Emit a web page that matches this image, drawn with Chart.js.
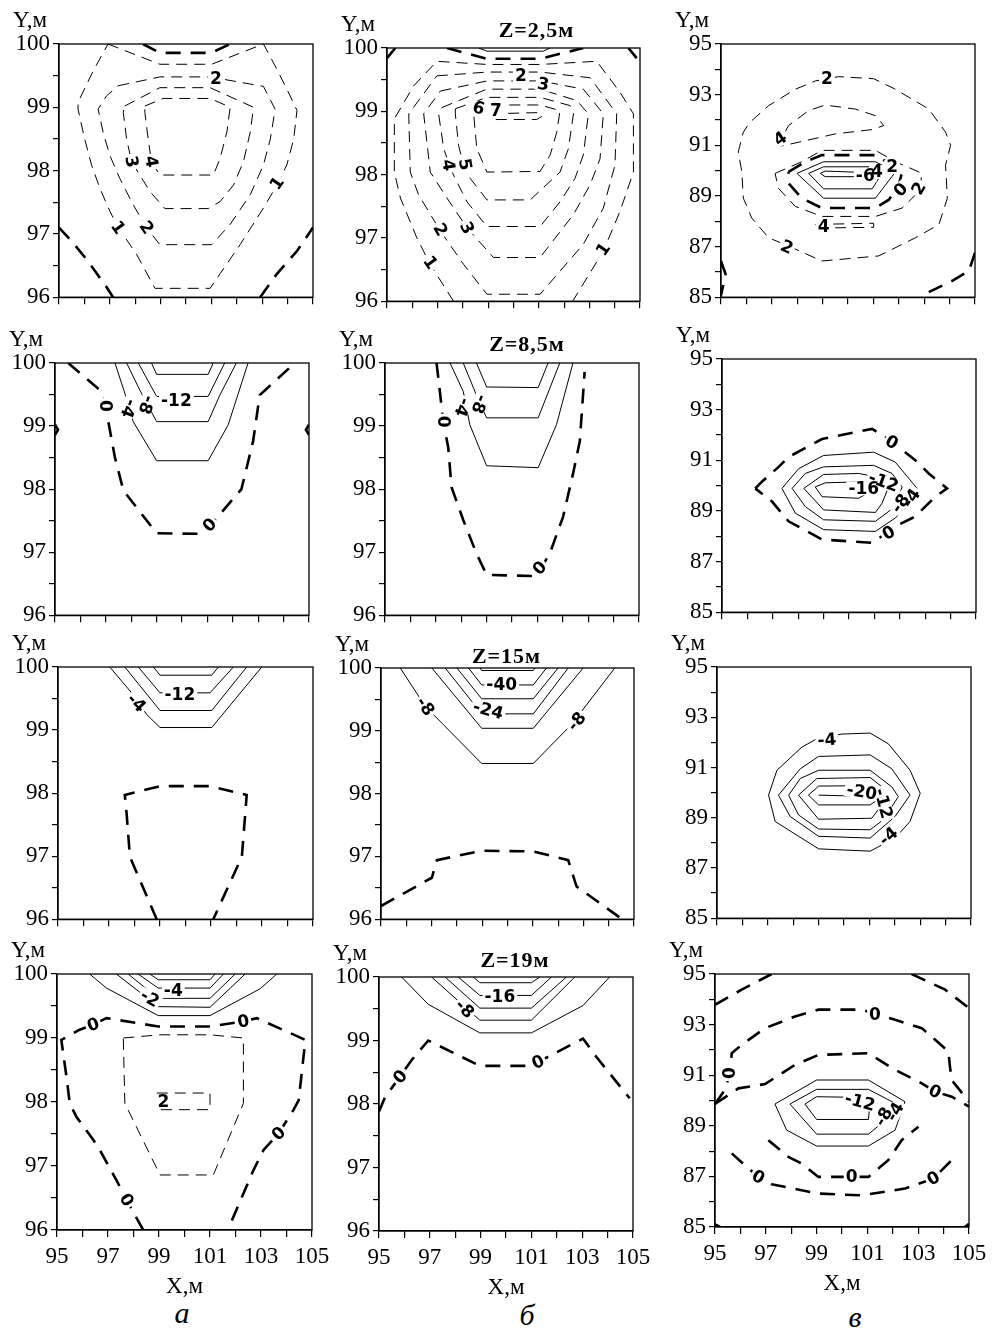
<!DOCTYPE html>
<html>
<head>
<meta charset="utf-8">
<script src="https://cdn.jsdelivr.net/npm/chart.js@4.4.1/dist/chart.umd.min.js"></script>
<style>
  body { margin: 0; background: #fff; }
  #fig { position: relative; width: 992px; height: 1337px; overflow: hidden; background: #fff; }
  #fig canvas { position: absolute; }
  .cap { position: absolute; font: italic 30px "Liberation Serif", serif; color: #000; line-height: 1; transform: translateX(-50%); }
</style>
</head>
<body>
<div id="fig">
  <div class="cap" style="left:182px;top:1298px">а</div>
  <div class="cap" style="left:527px;top:1300px">б</div>
  <div class="cap" style="left:855px;top:1302px">в</div>
</div>
<script>
// ── TICKS ────────────────────────────────────────────
const xTickLabels  = [95, 97, 99, 101, 103, 105];
const yTicksAB     = [96, 97, 98, 99, 100];
const yTicksC      = [85, 87, 89, 91, 93, 95];

// ── ROW 1 (a) ────────────────────────────────────────
const a1ZeroTop   = [[98.3,100],[98.97,99.86],[101.0,99.86],[101.74,100]];
const a1ZeroLeft  = [[95,97.1],[95.49,96.89],[96.14,96.57],[96.87,96.16],[97.13,96]];
const a1ZeroRight = [[102.92,96],[103.58,96.37],[104.37,96.73],[105,97.1]];
const a1Iso1 = [[96.93,100],[98.97,99.68],[101.01,99.68],[103.05,100],[103.58,99.6],[104.1,99.18],[104.37,98.95],[104.24,98.5],[103.97,98.09],[103.58,97.77],[103.05,97.41],[102.13,96.83],[101.34,96.37],[100.95,96.14],[98.78,96.14],[98.05,96.68],[97.33,97.1],[97.0,97.36],[96.61,97.72],[96.28,98.09],[96.01,98.5],[95.75,98.97],[95.75,99.08],[96.34,99.57],[96.93,100]];
const a1Iso2 = [[97.33,99.34],[98.97,99.48],[100.95,99.48],[103.05,99.33],[103.51,98.97],[103.32,98.5],[103.05,98.09],[102.53,97.62],[101.74,97.15],[101.01,96.83],[98.97,96.83],[98.45,97.1],[97.92,97.46],[97.39,97.88],[97.0,98.24],[96.74,98.6],[96.54,98.97],[96.87,99.18],[97.33,99.34]];
const a1Iso3 = [[97.59,99.02],[98.97,99.31],[100.95,99.31],[102.66,99.0],[102.53,98.61],[102.26,98.14],[101.87,97.77],[101.34,97.51],[100.88,97.4],[99.17,97.4],[98.58,97.67],[97.86,98.14],[97.66,98.5],[97.53,98.92],[97.59,99.02]];
const a1Iso4 = [[98.38,99.02],[99.1,99.14],[100.95,99.14],[101.74,99.0],[101.61,98.61],[101.34,98.19],[101.08,97.93],[98.97,97.93],[98.64,98.14],[98.51,98.5],[98.38,98.92],[98.38,99.02]];
const a1Labels = [["2",101.18,99.46,0],["4",98.64,98.14,80],["3",97.86,98.14,80],["2",98.45,97.1,55],["1",97.33,97.1,55],["1",103.58,97.8,-55]];

// ── ROW 1 (б) Z=2,5м ─────────────────────────────────
const b1ZeroTop = [[97.37,100],[98.95,99.83],[101.05,99.83],[102.76,100]];
const b1ZeroTL  = [[95,99.84],[95.33,100]];
const b1ZeroTR  = [[104.54,100],[104.87,99.84]];
const b1Neg     = [[98.62,100],[98.95,99.95],[101.18,99.95],[101.45,100]];
const b1Iso1 = [[97.63,96.0],[96.71,96.58],[96.18,97.0],[95.53,97.63],[95.29,98.04],[95.29,98.88],[96.05,99.4],[96.97,99.79],[98.95,99.74],[101.05,99.74],[103.29,99.79],[104.21,99.3],[104.74,98.96],[104.74,98.04],[104.21,97.42],[103.55,96.79],[102.34,96.0]];
const b1Iso2 = [[96.97,99.56],[98.95,99.62],[101.05,99.62],[103.03,99.53],[104.08,98.96],[104.01,98.15],[103.55,97.47],[102.76,96.9],[101.05,96.11],[98.95,96.11],[98.03,96.58],[97.11,97.11],[96.25,97.68],[95.92,98.04],[95.86,98.96],[96.97,99.56]];
const b1Iso3 = [[97.11,99.32],[98.95,99.48],[101.05,99.48],[102.76,99.35],[103.55,98.96],[103.42,98.25],[103.03,97.84],[102.37,97.37],[101.05,96.69],[99.21,96.69],[98.16,97.16],[97.37,97.63],[96.71,98.04],[96.45,98.96],[97.11,99.32]];
const b1Iso4 = [[97.17,99.06],[98.95,99.35],[101.05,99.35],[102.5,99.17],[102.96,98.96],[102.76,98.31],[102.43,97.94],[101.84,97.57],[101.05,97.18],[98.95,97.18],[98.16,97.57],[97.57,98.04],[97.24,98.41],[97.04,98.96],[97.17,99.06]];
const b1Iso5 = [[97.7,99.04],[98.95,99.22],[101.05,99.22],[102.24,99.09],[102.37,98.96],[102.17,98.41],[101.84,98.04],[100.66,97.6],[98.95,97.6],[98.29,97.94],[98.03,98.15],[97.83,98.46],[97.7,98.96],[97.7,99.04]];
const b1Iso6 = [[98.42,99.06],[98.95,99.1],[101.05,99.1],[101.84,99.01],[101.71,98.67],[101.45,98.31],[101.05,98.05],[98.95,98.04],[98.55,98.41],[98.42,98.98],[98.42,99.06]];
const b1Iso7 = [[99.08,98.96],[101.05,98.98],[101.12,98.92],[100.92,98.87],[99.21,98.87],[99.08,98.96]];
const b1Labels = [["2",100.29,99.57,0],["3",101.18,99.43,10],["6",98.62,99.05,15],["7",99.3,99.01,0],["4",97.43,98.15,80],["5",98.09,98.16,80],["2",97.11,97.13,60],["3",98.16,97.16,65],["1",96.71,96.61,55],["1",103.55,96.82,-55]];

// ── ROW 1 (в) ────────────────────────────────────────
const c1Iso2  = [[98.71,93.54],[99.63,93.71],[101.01,93.63],[101.87,93.21],[103.18,92.43],[103.84,91.52],[104.04,91.0],[103.84,90.22],[103.91,88.91],[103.58,87.87],[102.66,87.35],[101.21,86.63],[98.97,86.43],[97.66,87.02],[96.87,87.35],[96.21,88.13],[95.88,88.91],[95.82,89.95],[95.68,90.74],[95.88,91.52],[96.14,91.91],[96.87,92.56],[97.92,93.21],[98.71,93.54]];
const c1Iso4  = [[97.2,90.93],[97.66,91.78],[98.45,92.37],[99.1,92.59],[100.29,92.43],[101.08,92.17],[101.41,91.78],[100.95,91.62],[99.5,91.45],[98.18,91.15],[97.2,90.93]];
const c1Iso2b = [[97.13,89.89],[98.18,90.35],[98.97,90.8],[101.08,90.8],[101.87,90.35],[102.92,89.89],[102.79,89.17],[102.13,88.52],[101.08,88.19],[98.97,88.19],[97.92,88.59],[97.26,89.3],[97.13,89.89]];
const c1Zero  = [[97.66,89.95],[98.32,90.35],[98.97,90.61],[101.08,90.61],[101.74,90.22],[102.13,89.95],[102.0,89.43],[101.61,88.85],[101.08,88.52],[98.97,88.52],[98.18,88.91],[97.66,89.5],[97.66,89.95]];
const c1Neg1  = [[97.99,89.89],[99.04,90.35],[101.08,90.35],[101.87,89.95],[101.08,88.91],[99.04,88.91],[97.99,89.89]];
const c1Neg2  = [[98.45,89.89],[99.04,90.15],[100.95,90.15],[101.34,89.89],[100.95,89.28],[99.04,89.28],[98.45,89.89]];
const c1Neg3  = [[98.91,89.89],[99.1,89.98],[100.55,89.93],[100.55,89.76],[99.1,89.76],[98.91,89.89]];
const c1Iso4b = [[98.71,87.87],[99.5,87.89],[101.01,87.92],[101.01,87.76],[99.5,87.74],[98.71,87.76],[98.71,87.87]];
const c1ZeroBL = [[95,86.43],[95.18,85.91],[95,85.07]];
const c1ZeroBR = [[103.18,85.2],[104.11,85.65],[104.76,86.04],[105,86.76]];
const c1Labels = [["2",99.17,93.63,0],["2",97.59,86.98,25],["4",97.33,91.26,-35],["-6",100.68,89.82,0],["4",101.14,89.95,0],["2",101.74,90.15,0],["0",102.07,89.24,-45],["2",102.79,89.3,-60],["4",99.04,87.8,0]];

// ── ROW 2 (a) ────────────────────────────────────────
const a2Zero  = [[95.52,100],[96.77,99.57],[96.97,99.34],[97.1,99.07],[97.36,98.5],[97.69,97.98],[99.0,97.3],[100.83,97.29],[102.34,98.0],[102.8,98.76],[103.06,99.49],[104.44,100]];
const a2ZeroL = [[95,99.02],[95.12,98.94],[95,98.86]];
const a2ZeroR = [[105,99.02],[104.88,98.94],[105,98.86]];
const a2Neg4  = [[97.36,100],[97.75,99.52],[98.08,99.07],[99.0,98.45],[101.03,98.45],[101.82,99.02],[102.6,100]];
const a2Neg8  = [[97.82,100],[98.34,99.57],[99.0,99.07],[101.03,99.07],[101.49,99.49],[102.14,100]];
const a2Neg12 = [[98.28,100],[99.0,99.47],[101.03,99.47],[101.68,100]];
const a2Neg16 = [[98.8,100],[99.0,99.82],[101.03,99.82],[101.23,100]];
const a2Labels = [["0",96.97,99.32,90],["-4",97.9,99.28,110],["-8",98.6,99.34,110],["-12",99.78,99.4,0],["0",101.09,97.43,-45]];

// ── ROW 2 (б) Z=8,5м ─────────────────────────────────
const b2Zero  = [[97.03,100],[97.16,99.55],[97.29,99.07],[97.49,98.66],[97.62,98.03],[98.08,97.51],[98.6,96.98],[99.0,96.64],[100.96,96.62],[101.49,96.98],[102.01,97.56],[102.4,98.24],[102.67,98.76],[102.86,99.86]];
const b2Neg4  = [[97.56,100],[98.08,99.55],[98.34,99.02],[99.0,98.37],[101.03,98.34],[101.75,99.02],[102.4,100]];
const b2Neg8  = [[98.08,100],[98.6,99.49],[99.0,99.13],[101.03,99.13],[101.88,100]];
const b2Neg12 = [[98.6,100],[99.0,99.62],[101.03,99.61],[101.42,100]];
const b2Labels = [["0",97.29,99.07,90],["-4",98.05,99.3,110],["-8",98.72,99.35,110],["0",101.09,96.75,-45]];

// ── ROW 2 (в) ────────────────────────────────────────
const c2Zero  = [[96.31,89.89],[96.57,90.15],[97.23,90.74],[97.62,91.13],[98.94,91.84],[100.91,92.24],[101.56,91.84],[102.61,91.0],[103.14,90.48],[103.86,89.89],[103.4,89.56],[103.0,89.17],[102.61,88.78],[101.96,88.46],[100.91,87.74],[98.94,87.87],[97.62,88.59],[96.97,89.37],[96.31,89.89]];
const c2Neg4  = [[97.36,89.89],[98.02,90.67],[99.0,91.19],[100.97,91.32],[101.82,90.93],[102.68,89.89],[102.35,89.24],[101.82,88.72],[101.04,88.19],[99.0,88.26],[97.89,88.91],[97.36,89.89]];
const c2Neg8  = [[97.76,89.89],[98.28,90.48],[99.0,90.74],[100.97,90.8],[101.69,90.48],[102.09,89.95],[101.82,89.17],[101.04,88.59],[99.0,88.65],[98.28,89.17],[97.76,89.89]];
const c2Neg12 = [[98.22,89.89],[99.0,90.44],[100.38,90.48],[101.04,90.35],[101.56,89.95],[101.3,89.3],[101.04,88.94],[99.0,89.04],[98.22,89.89]];
const c2Neg16 = [[98.67,89.95],[99.07,90.11],[100.45,90.15],[100.91,89.82],[100.38,89.5],[98.94,89.56],[98.67,89.95]];
const c2Labels = [["0",101.69,91.71,30],["0",101.56,88.13,-30],["-16",100.58,89.89,0],["-12",101.36,90.15,20],["-8",102.02,89.3,-55],["-4",102.45,89.5,-55]];

// ── ROW 3 (a) ────────────────────────────────────────
const a3Neg4  = [[97.03,100],[97.95,99.56],[98.47,99.25],[99.0,99.04],[101.03,99.04],[102.99,100]];
const a3Neg8  = [[97.62,100],[99.0,99.31],[101.03,99.31],[102.4,100]];
const a3Neg12 = [[98.15,100],[99.0,99.59],[100.96,99.59],[101.88,100]];
const a3Neg16 = [[98.74,100],[99.0,99.87],[101.03,99.87],[101.29,100]];
const a3Zero  = [[98.87,96],[97.82,96.99],[97.69,97.68],[97.62,97.97],[99.0,98.11],[100.96,98.11],[102.4,97.97],[102.21,96.99],[101.09,96]];
const a3Labels = [["-4",98.08,99.43,45],["-12",99.78,99.56,0]];

// ── ROW 3 (б) Z=15м ──────────────────────────────────
const b3Neg8  = [[95.76,100],[96.75,99.39],[98.98,98.48],[101.02,98.48],[102.53,99.1],[104.24,100]];
const b3Neg16 = [[97.01,100],[98.98,99.04],[101.02,99.04],[102.99,100]];
const b3Neg24 = [[97.54,100],[98.98,99.27],[101.02,99.27],[102.4,100]];
const b3Neg32 = [[98.0,100],[98.98,99.51],[101.02,99.51],[102.0,100]];
const b3Neg40 = [[98.46,100],[98.98,99.73],[101.02,99.73],[101.54,100]];
const b3Neg48 = [[98.92,100],[98.98,99.96],[101.02,99.96],[101.08,100]];
const b3Zero  = [[95,96.21],[97.01,96.66],[97.21,96.94],[98.98,97.09],[101.02,97.08],[102.4,96.94],[102.73,96.52],[104.43,96.03]];
const b3Labels = [["-8",96.75,99.39,55],["-8",102.73,99.15,-50],["-24",99.24,99.33,15],["-40",99.77,99.73,0]];

// ── ROW 3 (в) ────────────────────────────────────────
const c3Neg4  = [[98.93,92.14],[99.91,92.33],[101.03,92.37],[101.75,91.94],[102.6,90.89],[103.0,89.97],[102.6,88.85],[102.01,88.19],[101.03,87.67],[99.0,87.76],[97.29,88.85],[97.03,89.9],[97.36,90.89],[98.34,91.81],[98.93,92.14]];
const c3Neg8  = [[97.42,89.9],[98.28,90.95],[99.0,91.44],[101.03,91.5],[101.88,90.95],[102.6,89.9],[102.01,89.05],[101.03,88.19],[99.0,88.26],[97.88,89.05],[97.42,89.9]];
const c3Neg12 = [[97.82,89.9],[98.28,90.56],[99.0,90.89],[101.03,90.89],[101.88,90.23],[102.14,89.84],[101.55,88.92],[101.03,88.52],[99.0,88.55],[98.21,89.11],[97.82,89.9]];
const c3Neg16 = [[98.21,89.9],[98.93,90.56],[101.03,90.6],[101.49,90.23],[101.75,89.84],[101.09,88.98],[99.0,88.94],[98.21,89.9]];
const c3Neg20 = [[98.6,89.9],[99.0,90.26],[100.2,90.27],[101.2,90.1],[101.49,89.84],[101.03,89.51],[99.0,89.51],[98.6,89.9]];
const c3Neg24 = [[99.0,89.9],[101.23,89.84]];
const c3Labels = [["-4",99.33,92.1,-5],["-20",100.7,90.03,10],["-12",101.55,89.57,75],["-4",101.75,88.26,-40]];

// ── ROW 4 (a) ────────────────────────────────────────
const a4Neg2  = [[96.28,100],[96.94,99.78],[98.97,99.35],[101.0,99.35],[102.97,99.77],[103.62,100]];
const a4Neg4  = [[97.33,100],[98.97,99.49],[101.0,99.48],[102.38,100]];
const a4Neg6  = [[97.79,100],[98.97,99.62],[101.0,99.62],[101.99,100]];
const a4Neg8  = [[98.18,100],[98.97,99.78],[101.0,99.78],[101.53,100]];
const a4Neg10 = [[98.64,100],[98.97,99.91],[101.0,99.91],[101.2,100]];
const a4Zero  = [[98.38,96],[97.73,96.47],[97.33,96.78],[96.68,97.25],[96.42,97.41],[95.76,97.77],[95.5,97.98],[95.37,98.4],[95.17,98.97],[95.89,99.13],[96.42,99.21],[96.94,99.31],[98.97,99.18],[101.0,99.18],[102.31,99.26],[102.84,99.31],[104.74,98.97],[104.61,98.5],[104.48,98.03],[104.28,97.88],[103.69,97.51],[103.1,97.25],[102.71,96.94],[101.75,96.05]];
const a4Pos1  = [[97.6,99.0],[99.04,99.05],[101.0,99.05],[102.31,99.0],[102.31,97.98],[101.13,96.86],[99.04,96.86],[97.66,97.98],[97.6,99.0]];
const a4Pos2  = [[98.91,98.14],[101.0,98.14],[101.0,97.88],[98.91,97.88],[98.91,98.14]];
const a4Labels = [["-2",98.64,99.62,30],["-4",99.56,99.74,0],["0",96.42,99.21,-20],["0",102.31,99.26,-10],["0",103.69,97.51,-45],["0",97.73,96.47,60],["2",99.17,98.01,0]];

// ── ROW 4 (б) Z=19м ──────────────────────────────────
const b4Neg4  = [[95.89,100],[96.94,99.57],[98.97,99.12],[101.0,99.12],[103.03,99.55],[104.08,100]];
const b4Neg8  = [[97.07,100],[98.97,99.32],[101.0,99.32],[102.71,100]];
const b4Neg12 = [[97.6,100],[98.97,99.51],[101.0,99.51],[102.38,100]];
const b4Neg16 = [[98.12,100],[98.97,99.71],[101.0,99.71],[101.79,100]];
const b4Neg20 = [[98.71,100],[98.97,99.91],[101.0,99.91],[101.33,100]];
const b4Zero  = [[95,97.88],[95.24,98.11],[95.83,98.43],[96.28,98.69],[96.94,99.0],[98.97,98.6],[100.94,98.6],[101.26,98.66],[103.03,99.03],[103.56,98.74],[104.87,98.09]];
const b4Labels = [["-8",98.38,99.5,45],["-16",99.76,99.69,0],["0",95.83,98.43,-50],["0",101.26,98.66,-25]];

// ── ROW 4 (в) ────────────────────────────────────────
const c4ZeroTL = [[95,93.78],[96.05,94.38],[97.23,95]];
const c4ZeroTR = [[102.74,95],[104.06,94.38],[105,93.65]];
const c4Zero2  = [[95,89.86],[95.39,90.42],[95.59,91.08],[95.66,91.87],[96.05,92.2],[96.97,92.86],[98.15,93.32],[99.07,93.59],[100.77,93.59],[102.09,93.19],[103.14,92.86],[104.19,91.94],[104.25,91.34],[104.32,90.81],[105,89.95]];
const c4Zero3  = [[95,89.86],[95.92,90.48],[96.97,90.65],[98.15,91.41],[99.07,91.8],[101.04,91.87],[102.09,91.21],[103.14,90.68],[103.66,90.35],[104.32,90.15],[105,89.76]];
const c4Zero4  = [[95.66,87.91],[96.18,87.44],[96.71,86.98],[97.23,86.69],[99.07,86.32],[100.77,86.25],[102.48,86.52],[103.6,86.92],[104.45,87.77]];
const c4Zero5  = [[97.1,88.43],[97.89,87.77],[98.41,87.51],[99.07,86.98],[100.38,86.98],[101.04,86.98],[101.82,87.64],[102.35,88.43],[103.01,88.96]];
const c4ZeroBL = [[95,85.1],[95.2,85]];
const c4ZeroBR = [[104.84,85],[105,85.13]];
const c4Neg4   = [[97.36,89.86],[99.0,90.81],[101.04,90.81],[102.48,89.95],[102.09,88.83],[101.04,88.2],[99.0,88.2],[97.82,88.83],[97.36,89.86]];
const c4Neg8   = [[97.95,89.86],[99.0,90.44],[101.04,90.44],[102.09,89.89],[101.56,89.1],[101.04,88.67],[99.0,88.67],[97.95,89.86]];
const c4Neg12  = [[98.54,89.86],[99.0,90.15],[100.18,90.13],[101.1,89.9],[101.04,89.25],[99.0,89.25],[98.54,89.86]];
const c4Labels = [["0",101.3,93.39,0],["0",95.59,91.08,-90],["0",103.66,90.35,25],["0",96.71,86.98,30],["0",100.38,86.98,0],["0",103.6,86.92,-30],["-12",100.71,89.95,15],["-8",101.63,89.36,-60],["-4",102.09,89.56,-60]];

// ── STYLES ───────────────────────────────────────────
const SERIF = '"Liberation Serif", "Times New Roman", serif';
const LABEL_FONT = 'bold 17px "DejaVu Sans", sans-serif';
const STYLE = {
  thin:  { width: 1,   dash: [11, 7] },
  thick: { width: 2.6, dash: [15, 10] },
  solid: { width: 1,   dash: [] }
};

// box = plot area [left, top, width, height] in page pixels
const panels = [
  { box: [59, 44, 254, 256], y: "ab", labels: a1Labels,
    lines: [["thick", a1ZeroTop], ["thick", a1ZeroLeft], ["thick", a1ZeroRight], ["thin", a1Iso1], ["thin", a1Iso2], ["thin", a1Iso3], ["thin", a1Iso4]] },
  { box: [387, 48, 253, 256], y: "ab", labels: b1Labels, title: ["Z=2,5м", 23, -11],
    lines: [["thick", b1ZeroTop], ["thick", b1ZeroTL], ["thick", b1ZeroTR], ["solid", b1Neg], ["thin", b1Iso1], ["thin", b1Iso2], ["thin", b1Iso3], ["thin", b1Iso4], ["thin", b1Iso5], ["thin", b1Iso6], ["thin", b1Iso7]] },
  { box: [721, 44, 254, 256], y: "c", labels: c1Labels,
    lines: [["thin", c1Iso2], ["thin", c1Iso4], ["thin", c1Iso2b], ["thick", c1Zero], ["solid", c1Neg1], ["solid", c1Neg2], ["solid", c1Neg3], ["thin", c1Iso4b], ["thick", c1ZeroBL], ["thick", c1ZeroBR]] },

  { box: [55, 363, 254, 255], y: "ab", labels: a2Labels,
    lines: [["thick", a2Zero], ["thick", a2ZeroL], ["thick", a2ZeroR], ["solid", a2Neg4], ["solid", a2Neg8], ["solid", a2Neg12], ["solid", a2Neg16]] },
  { box: [385, 363, 254, 255], y: "ab", labels: b2Labels, title: ["Z=8,5м", 15, -12],
    lines: [["thick", b2Zero], ["solid", b2Neg4], ["solid", b2Neg8], ["solid", b2Neg12]] },
  { box: [722, 359, 254, 256], y: "c", labels: c2Labels,
    lines: [["thick", c2Zero], ["solid", c2Neg4], ["solid", c2Neg8], ["solid", c2Neg12], ["solid", c2Neg16]] },

  { box: [58, 667, 255, 255], y: "ab", labels: a3Labels,
    lines: [["solid", a3Neg4], ["solid", a3Neg8], ["solid", a3Neg12], ["solid", a3Neg16], ["thick", a3Zero]] },
  { box: [381, 668, 253, 254], y: "ab", labels: b3Labels, title: ["Z=15м", -1, -5],
    lines: [["solid", b3Neg8], ["solid", b3Neg16], ["solid", b3Neg24], ["solid", b3Neg32], ["solid", b3Neg40], ["solid", b3Neg48], ["thick", b3Zero]] },
  { box: [717, 667, 254, 254], y: "c", labels: c3Labels,
    lines: [["solid", c3Neg4], ["solid", c3Neg8], ["solid", c3Neg12], ["solid", c3Neg16], ["solid", c3Neg20], ["solid", c3Neg24]] },

  { box: [57, 974, 255, 256], y: "ab", labels: a4Labels, showX: true,
    lines: [["solid", a4Neg2], ["solid", a4Neg4], ["solid", a4Neg6], ["solid", a4Neg8], ["solid", a4Neg10], ["thick", a4Zero], ["thin", a4Pos1], ["thin", a4Pos2]] },
  { box: [379, 977, 254, 254], y: "ab", labels: b4Labels, showX: true, title: ["Z=19м", 9, -10],
    lines: [["solid", b4Neg4], ["solid", b4Neg8], ["solid", b4Neg12], ["solid", b4Neg16], ["solid", b4Neg20], ["thick", b4Zero]] },
  { box: [715, 974, 254, 253], y: "c", labels: c4Labels, showX: true,
    lines: [["thick", c4ZeroTL], ["thick", c4ZeroTR], ["thick", c4Zero2], ["thick", c4Zero3], ["thick", c4Zero4], ["thick", c4Zero5], ["thick", c4ZeroBL], ["thick", c4ZeroBR], ["solid", c4Neg4], ["solid", c4Neg8], ["solid", c4Neg12]] }
];

const PAD_LEFT = 60, PAD_TOP = 45, PAD_RIGHT = 25;

// ── PLUGIN: frame, contour labels, axis captions ─────
function decorPlugin(p) {
  return {
    id: "decor",
    afterDatasetsDraw(chart) {
      const { ctx, chartArea: a, scales: { x, y } } = chart;
      ctx.save();
      ctx.strokeStyle = "#000";
      ctx.lineWidth = 1.3;
      ctx.strokeRect(a.left, a.top, a.right - a.left, a.bottom - a.top);

      ctx.font = LABEL_FONT;
      ctx.textAlign = "center";
      ctx.textBaseline = "middle";
      const pos = p.labels.map(([t, vx, vy, r]) => ({
        t, px: x.getPixelForValue(vx), py: y.getPixelForValue(vy), r: r * Math.PI / 180
      }));
      pos.forEach(l => {
        ctx.save();
        ctx.translate(l.px, l.py);
        ctx.rotate(l.r);
        const w = ctx.measureText(l.t).width;
        ctx.fillStyle = "#fff";
        ctx.fillRect(-w / 2 - 2, -7, w + 4, 14);
        ctx.restore();
      });
      ctx.fillStyle = "#000";
      pos.forEach(l => {
        ctx.save();
        ctx.translate(l.px, l.py);
        ctx.rotate(l.r);
        ctx.fillText(l.t, 0, 1);
        ctx.restore();
      });

      // "Y,м" caption
      ctx.textAlign = "left";
      ctx.textBaseline = "alphabetic";
      ctx.font = "23px " + SERIF;
      ctx.fillText("Y,м", a.left - 46, a.top - 17);

      if (p.showX) {
        ctx.textAlign = "center";
        ctx.fillText("X,м", (a.left + a.right) / 2, a.bottom + 63);
      }

      if (p.title) {
        ctx.font = "bold 22px " + SERIF;
        ctx.textAlign = "center";
        if ("letterSpacing" in ctx) ctx.letterSpacing = "1px";
        ctx.fillText(p.title[0], (a.left + a.right) / 2 + p.title[1], a.top + p.title[2]);
      }
      ctx.restore();
    }
  };
}

const fig = document.getElementById("fig");

panels.forEach(p => {
  const [left, top, w, h] = p.box;
  const bottomPad = p.showX ? 72 : 14;
  const canvas = document.createElement("canvas");
  canvas.width = PAD_LEFT + w + PAD_RIGHT;
  canvas.height = PAD_TOP + h + bottomPad;
  canvas.style.left = (left - PAD_LEFT) + "px";
  canvas.style.top = (top - PAD_TOP) + "px";
  fig.appendChild(canvas);

  const yLabels = p.y === "ab" ? yTicksAB : yTicksC;
  const yMin = p.y === "ab" ? 96 : 85;
  const yMax = p.y === "ab" ? 100 : 95;
  const yStep = p.y === "ab" ? 0.5 : 1;

  const datasets = p.lines.map(([kind, pts]) => ({
    data: pts.map(([px, py]) => ({ x: px, y: py })),
    showLine: true,
    pointRadius: 0,
    borderColor: "#000",
    borderWidth: STYLE[kind].width,
    borderDash: STYLE[kind].dash,
    fill: false,
    tension: 0
  }));

  new Chart(canvas, {
    type: "scatter",
    data: { datasets },
    options: {
      responsive: false,
      animation: false,
      devicePixelRatio: 1,
      events: [],
      layout: { padding: { left: 0, top: PAD_TOP, right: PAD_RIGHT, bottom: 0 } },
      plugins: { legend: { display: false }, tooltip: { enabled: false } },
      scales: {
        x: {
          type: "linear", min: 95, max: 105,
          ticks: {
            stepSize: 1, autoSkip: false, maxRotation: 0, padding: 6,
            color: "#000", font: { family: SERIF, size: 23 },
            callback: v => (p.showX && xTickLabels.includes(v)) ? String(v) : ""
          },
          grid: { drawOnChartArea: false, drawTicks: true, tickLength: 7, color: "#000", lineWidth: 1.2 },
          border: { display: true, color: "#000", width: 1.3 },
          afterFit: s => { s.height = bottomPad; }
        },
        y: {
          type: "linear", min: yMin, max: yMax,
          ticks: {
            stepSize: yStep, autoSkip: false, padding: 3,
            color: "#000", font: { family: SERIF, size: 23 },
            callback: v => yLabels.includes(v) ? String(v) : ""
          },
          grid: { drawOnChartArea: false, drawTicks: true, tickLength: 6, color: "#000", lineWidth: 1.2 },
          border: { display: true, color: "#000", width: 1.3 },
          afterFit: s => { s.width = PAD_LEFT; }
        }
      }
    },
    plugins: [decorPlugin(p)]
  });
});
</script>
</body>
</html>
